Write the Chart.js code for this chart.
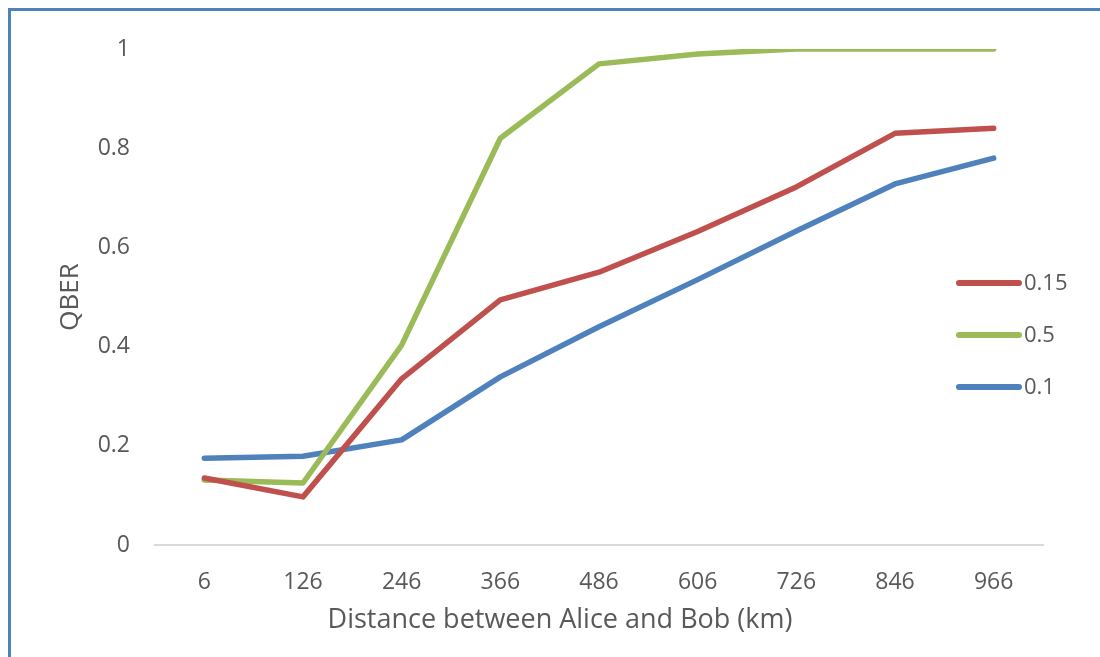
<!DOCTYPE html>
<html>
<head>
<meta charset="utf-8">
<script src="https://cdn.jsdelivr.net/npm/chart.js@4/dist/chart.umd.min.js"></script>
<style>
    html, body { margin: 0; padding: 0; background: #ffffff; }
    #wrap { width: 1100px; height: 657px; position: relative; }
</style>
</head>
<body>
<div id="wrap"><canvas id="qber"></canvas></div>
<script>
const distances = ["6", "126", "246", "366", "486", "606", "726", "846", "966"];

const qber015 = [0.135, 0.097, 0.335, 0.494, 0.55, 0.632, 0.722, 0.83, 0.84];
const qber05 = [0.131, 0.125, 0.403, 0.82, 0.97, 0.99, 1.0, 1.0, 1.0];
const qber01 = [0.175, 0.179, 0.212, 0.339, 0.44, 0.535, 0.633, 0.728, 0.78];

const seriesNames = ["0.15", "0.5", "0.1"];
const seriesColors = ["#C0504D", "#9BBB59", "#4F81BD"];

const xTitle = "Distance between Alice and Bob (km)";
const yTitle = "QBER";

const FONT = "'Open Sans', 'DejaVu Sans', sans-serif";
const TEXT = "#595959";

// white page with the blue frame on top and left
const framePlugin = {
    id: "frame",
    beforeDraw(chart) {
        const ctx = chart.ctx;
        ctx.save();
        ctx.fillStyle = "#ffffff";
        ctx.fillRect(0, 0, chart.width, chart.height);
        ctx.strokeStyle = "#4F81BD";
        ctx.lineWidth = 3;
        ctx.beginPath();
        ctx.moveTo(9.5, chart.height);
        ctx.lineTo(9.5, 9.5);
        ctx.lineTo(chart.width, 9.5);
        ctx.stroke();
        ctx.restore();
    }
};

// legend over the right part of the plot, x title centred on the whole frame
const sideLegend = {
    id: "sideLegend",
    afterDraw(chart) {
        const ctx = chart.ctx;
        ctx.save();
        ctx.font = "22px " + FONT;
        ctx.textBaseline = "middle";
        chart.data.datasets.forEach((ds, i) => {
            const y = 283 + i * 52;
            ctx.strokeStyle = ds.borderColor;
            ctx.lineWidth = 6;
            ctx.lineCap = "round";
            ctx.beginPath();
            ctx.moveTo(959, y);
            ctx.lineTo(1019, y);
            ctx.stroke();
            ctx.fillStyle = TEXT;
            ctx.fillText(ds.label, 1024, y + 1);
        });

        ctx.font = "27px " + FONT;
        ctx.textAlign = "center";
        ctx.fillStyle = TEXT;
        ctx.fillText(xTitle, 560, 620);
        ctx.restore();
    }
};

const values = [qber015, qber05, qber01];

new Chart(document.getElementById("qber"), {
    type: "line",

    data: {
        labels: distances,

        datasets: values.map((v, i) => ({
            label: seriesNames[i],
            data: v,
            borderColor: seriesColors[i],
            backgroundColor: seriesColors[i],
            borderWidth: 5.5,
            borderCapStyle: "round",
            borderJoinStyle: "round",
            pointRadius: 0,
            tension: 0,
            fill: false
        }))
    },

    options: {
        responsive: true,
        maintainAspectRatio: false,
        animation: false,

        layout: {
            padding: { top: 49, right: 57, left: 0, bottom: 0 }
        },

        plugins: {
            legend: { display: false },
            tooltip: { enabled: false }
        },

        scales: {
            x: {
                offset: true,
                grid: { display: false },
                border: { color: "#D9D9D9", width: 2 },
                ticks: {
                    color: TEXT,
                    font: { family: FONT, size: 23 },
                    padding: 16
                },
                afterFit(scale) { scale.height = 112; }
            },

            y: {
                min: 0,
                max: 1,
                grid: { display: false },
                border: { display: false },
                ticks: {
                    stepSize: 0.2,
                    color: TEXT,
                    font: { family: FONT, size: 23 },
                    padding: 17,
                    callback: (v) => String(Number(v.toFixed(1)))
                },
                title: {
                    display: true,
                    text: yTitle,
                    color: TEXT,
                    font: { family: FONT, size: 26 },
                    padding: { top: 55, bottom: 0 }
                },
                afterFit(scale) { scale.width = 155; }
            }
        }
    },

    plugins: [framePlugin, sideLegend]
});
</script>
</body>
</html>
